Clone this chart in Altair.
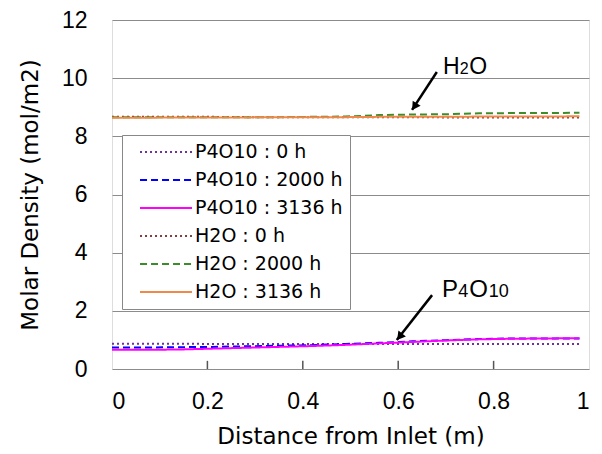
import altair as alt
import pandas as pd

# ---- data ----
x_pos = [0.0, 0.07, 0.14, 0.21, 0.28, 0.35, 0.42, 0.49, 0.56, 0.63, 0.70, 0.77, 0.84, 0.91, 0.98]

p4o10_0h = [0.87, 0.87, 0.87, 0.86, 0.86, 0.86, 0.86, 0.86, 0.86, 0.86, 0.86, 0.86, 0.86, 0.86, 0.86]
p4o10_2000h = [0.74, 0.74, 0.75, 0.76, 0.78, 0.80, 0.82, 0.86, 0.90, 0.95, 0.99, 1.03, 1.05, 1.05, 1.05]
p4o10_3136h = [0.66, 0.66, 0.67, 0.70, 0.73, 0.76, 0.79, 0.83, 0.88, 0.93, 0.98, 1.02, 1.04, 1.05, 1.06]
h2o_0h = [8.67, 8.67, 8.67, 8.67, 8.66, 8.66, 8.66, 8.66, 8.66, 8.66, 8.65, 8.65, 8.65, 8.65, 8.65]
h2o_2000h = [8.66, 8.66, 8.66, 8.66, 8.66, 8.66, 8.67, 8.68, 8.73, 8.75, 8.76, 8.79, 8.80, 8.80, 8.81]
h2o_3136h = [8.64, 8.64, 8.65, 8.65, 8.65, 8.66, 8.66, 8.66, 8.67, 8.67, 8.67, 8.68, 8.68, 8.68, 8.69]

series_names = ["P4O10 : 0 h", "P4O10 : 2000 h", "P4O10 : 3136 h",
                "H2O : 0 h", "H2O : 2000 h", "H2O : 3136 h"]
series_values = [p4o10_0h, p4o10_2000h, p4o10_3136h, h2o_0h, h2o_2000h, h2o_3136h]
series_colors = ["#7030A0", "#0000FF", "#FF00FF", "#7F3F3F", "#3C8C2C", "#F0884A"]
series_dash = [[2, 3], [7, 4], [1, 0], [2, 3], [7, 4], [1, 0]]

# annotation labels (pieces with subscripts)
ann_text = ["H", "2", "O", "P", "4", "O", "10"]
ann_x = [0.694, 0.729, 0.749, 0.692, 0.726, 0.749, 0.790]
ann_y = [10.13, 10.13, 10.13, 2.48, 2.48, 2.48, 2.48]
ann_fs = [23, 16, 23, 24, 18, 24, 18]

# arrows
arrow_x = [0.681, 0.671]
arrow_y = [10.21, 2.54]
arrow_x2 = [0.629, 0.597]
arrow_y2 = [8.91, 1.00]
head_x = [0.634, 0.603]
head_y = [9.02, 1.11]
head_angle = [213, 218]

# inward ticks on the bottom axis
tick_x = [0.2, 0.4, 0.6, 0.8]

x_ticks = [0, 0.2, 0.4, 0.6, 0.8, 1]
y_ticks = [0, 2, 4, 6, 8, 10, 12]

# ---- tables ----
rows = []
for name, vals in zip(series_names, series_values):
    for xv, yv in zip(x_pos, vals):
        rows.append({"x": xv, "y": yv, "series": name})
df = pd.DataFrame(rows)
df_ann = pd.DataFrame({"x": ann_x, "y": ann_y, "t": ann_text, "fs": ann_fs})
df_arrow = pd.DataFrame({"x": arrow_x, "y": arrow_y, "x2": arrow_x2, "y2": arrow_y2})
df_head = pd.DataFrame({"x": head_x, "y": head_y, "a": head_angle})
df_tick = pd.DataFrame({"x": tick_x, "y": [0.0] * 4, "y2": [0.28] * 4})

XT = "Distance from Inlet (m)"
YT = "Molar Density (mol/m2)"
xs = alt.Scale(domain=[0, 1], nice=False, zero=False)
ys = alt.Scale(domain=[0, 12], nice=False)


def X(field="x:Q"):
    return alt.X(field, scale=xs, title=XT)


def Y(field="y:Q"):
    return alt.Y(field, scale=ys, title=YT)


legend = alt.Legend(
    title=None, orient="none", legendX=10, legendY=115,
    symbolType="M-3,0H3", symbolSize=300, symbolStrokeWidth=2,
    labelFont="DejaVu Sans", labelFontSize=19, labelColor="black",
    padding=7, fillColor="white", strokeColor="#888888",
    rowPadding=8, symbolOffset=27, labelOffset=19,
)

lines = alt.Chart(df).mark_line(strokeWidth=2).encode(
    x=alt.X("x:Q", scale=xs, title=XT,
            axis=alt.Axis(values=x_ticks, format="~g", grid=False, ticks=False, tickSize=0,
                          domain=False, labelFont="Liberation Sans", labelFontSize=23,
                          labelColor="black", labelPadding=21, titleFont="DejaVu Sans",
                          titleFontSize=23, titleFontWeight="normal", titleColor="black",
                          titlePadding=12)),
    y=alt.Y("y:Q", scale=ys, title=YT,
            axis=alt.Axis(values=y_ticks, format="d", grid=True, gridColor="#8c8c8c",
                          gridWidth=1, ticks=False, tickSize=0, domain=False,
                          labelFont="Liberation Sans", labelFontSize=23, labelColor="black",
                          labelPadding=25, titleFont="DejaVu Sans", titleFontSize=23,
                          titleFontWeight="normal", titleColor="black", titlePadding=19)),
    color=alt.Color("series:N", scale=alt.Scale(domain=series_names, range=series_colors),
                    legend=legend),
    strokeDash=alt.StrokeDash("series:N", scale=alt.Scale(domain=series_names, range=series_dash),
                              legend=legend),
)

ticks = alt.Chart(df_tick).mark_rule(color="#555555", strokeWidth=1.5).encode(
    x=X(), y=Y(), y2="y2:Q")

arrows = alt.Chart(df_arrow).mark_rule(color="black", strokeWidth=2.5).encode(
    x=X(), y=Y(), x2="x2:Q", y2="y2:Q")

heads = alt.Chart(df_head).mark_point(shape="triangle-up", filled=True, size=90,
                                      color="black", opacity=1).encode(
    x=X(), y=Y(), angle=alt.Angle("a:Q", scale=None))

labels = alt.Chart(df_ann).mark_text(align="left", baseline="alphabetic",
                                     font="Liberation Sans", color="black").encode(
    x=X(), y=Y(), text="t:N", size=alt.Size("fs:Q", scale=None))

chart = alt.layer(lines, ticks, arrows, heads, labels).properties(
    width=477, height=349,
    autosize=alt.AutoSizeParams(type="none"),
    padding={"left": 112, "top": 20, "right": 13, "bottom": 85},
).configure_view(stroke="#4d4d4d", strokeWidth=1.5).configure(background="white")

chart.save("out.html", embed_options={"renderer": "svg", "actions": False})
